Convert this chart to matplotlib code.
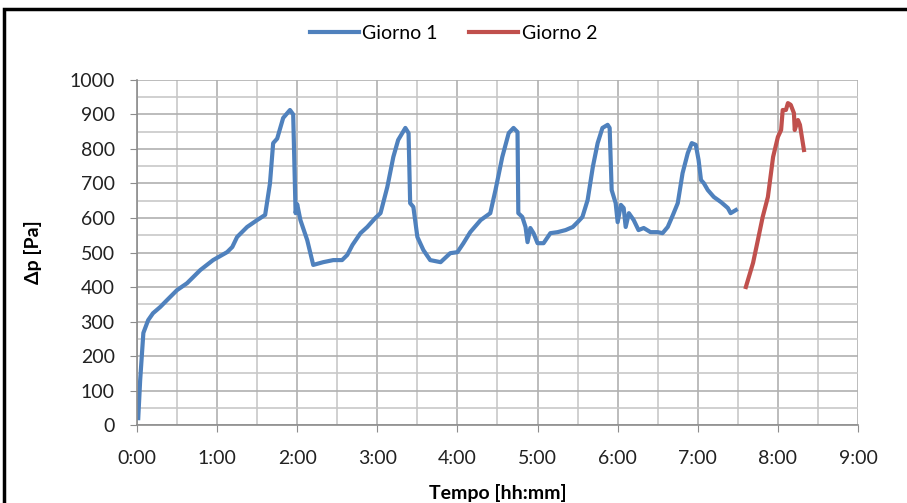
import matplotlib.pyplot as plt
from matplotlib.patches import Rectangle
from matplotlib.ticker import MultipleLocator, FuncFormatter

# tempo in ore decimali, delta p in Pa
t_giorno1 = [0.016, 0.04, 0.08, 0.14, 0.2, 0.29, 0.375, 0.5, 0.625, 0.79, 0.95,
             1.125, 1.19, 1.25, 1.375, 1.5, 1.6, 1.66, 1.7, 1.75, 1.825, 1.91,
             1.95, 1.98, 2.0, 2.04, 2.125, 2.2, 2.325, 2.45, 2.56, 2.625, 2.69,
             2.79, 2.875, 2.975, 3.04, 3.125, 3.2, 3.26, 3.35, 3.39, 3.41, 3.45,
             3.5, 3.575, 3.66, 3.79, 3.91, 4.0, 4.075, 4.16, 4.29, 4.41, 4.475,
             4.56, 4.64, 4.7, 4.75, 4.76, 4.81, 4.85, 4.875, 4.91, 4.95, 5.0,
             5.075, 5.16, 5.25, 5.35, 5.44, 5.5, 5.56, 5.625, 5.69, 5.75, 5.81,
             5.875, 5.9, 5.925, 5.975, 6.0, 6.04, 6.075, 6.1, 6.14, 6.2, 6.26,
             6.325, 6.41, 6.5, 6.56, 6.625, 6.69, 6.75, 6.81, 6.875, 6.925,
             6.975, 7.01, 7.04, 7.075, 7.125, 7.2, 7.29, 7.375, 7.41, 7.475]
dp_giorno1 = [20, 130, 267, 304, 324, 342, 362, 391, 411, 449, 478,
              501, 516, 545, 574, 594, 609, 700, 817, 830, 890, 913,
              900, 614, 640, 594, 536, 464, 472, 478, 478, 493, 522,
              556, 574, 600, 614, 690, 777, 826, 861, 846, 643, 632,
              545, 507, 478, 472, 498, 501, 527, 559, 594, 614, 681,
              777, 846, 861, 849, 614, 603, 574, 530, 571, 556, 527,
              527, 556, 559, 565, 574, 588, 603, 652, 748, 817, 861,
              870, 861, 681, 643, 588, 638, 629, 574, 614, 594, 565,
              571, 559, 559, 556, 574, 609, 643, 730, 788, 817,
              812, 768, 710, 701, 681, 661, 646, 629, 614, 623]

t_giorno2 = [7.6, 7.69, 7.75, 7.81, 7.875, 7.94, 8.0, 8.04, 8.06, 8.1, 8.125,
             8.16, 8.2, 8.21, 8.25, 8.275, 8.325]
dp_giorno2 = [400, 470, 536, 603, 661, 777, 835, 855, 913, 913, 933,
              928, 904, 855, 884, 870, 797]

plt.rcParams['font.family'] = ['Lato', 'DejaVu Sans']

fig = plt.figure(figsize=(9.07, 5.03), dpi=100)
ax = fig.add_axes([0.151, 0.155, 0.795, 0.686])

ax.plot(t_giorno1, dp_giorno1, color='#4F81BD', lw=3, label='Giorno 1',
        solid_joinstyle='round')
ax.plot(t_giorno2, dp_giorno2, color='#C0504D', lw=3, label='Giorno 2',
        solid_joinstyle='round')

ax.set_xlim(0, 9)
ax.set_ylim(0, 1000)
ax.xaxis.set_major_locator(MultipleLocator(1))
ax.xaxis.set_minor_locator(MultipleLocator(0.5))
ax.yaxis.set_major_locator(MultipleLocator(100))
ax.yaxis.set_minor_locator(MultipleLocator(50))
ax.xaxis.set_major_formatter(FuncFormatter(lambda v, p: f"{int(round(v))}:00"))

ax.grid(which='major', color='#B0B0B0', lw=1.2)
ax.grid(which='minor', color='#C8C8C8', lw=1.2)
ax.set_axisbelow(True)

for s in ['top', 'right']:
    ax.spines[s].set_visible(False)
for s in ['left', 'bottom']:
    ax.spines[s].set_color('#8C8C8C')
    ax.spines[s].set_linewidth(1.2)
ax.tick_params(which='major', length=5, color='#8C8C8C', labelsize=14,
               labelcolor='#222222')
ax.tick_params(axis='y', pad=11)
ax.tick_params(axis='x', pad=13)
ax.tick_params(which='minor', length=0)

ax.set_xlabel('Tempo [hh:mm]', fontsize=14, fontweight='bold', labelpad=12)
ax.set_ylabel('Δp [Pa]', fontsize=14, fontweight='bold', labelpad=20)

fig.legend(loc='upper center', bbox_to_anchor=(0.5, 0.985), ncol=2,
           frameon=False, fontsize=14, handlelength=2.5, handletextpad=0.2,
           columnspacing=1.6)

# cornice esterna
fig.patches.append(Rectangle((0.0045, -0.1), 1.2, 1.083, transform=fig.transFigure,
                             fill=False, edgecolor='black', lw=2.5))

fig.savefig('out.png', dpi=100)
